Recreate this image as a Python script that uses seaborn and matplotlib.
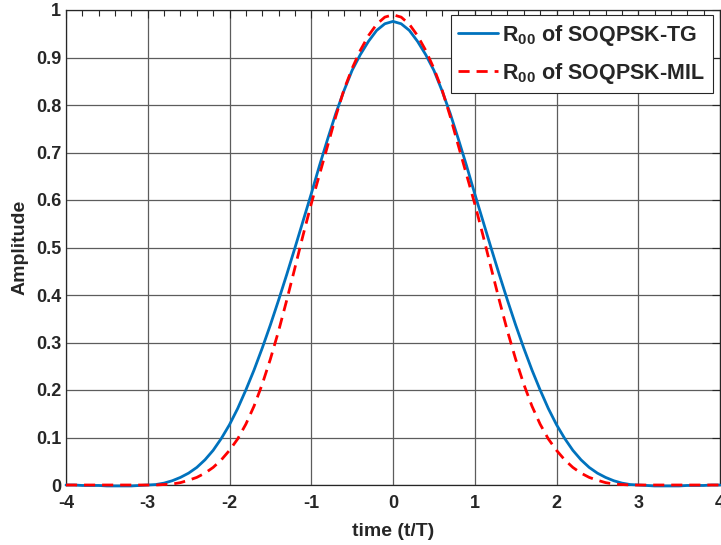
import numpy as np
import pandas as pd
import matplotlib
matplotlib.use("Agg")
import matplotlib.pyplot as plt
from matplotlib.ticker import MultipleLocator
import seaborn as sns

# time axis (t/T), step 0.1 from -4 to 4
time = [-4.0, -3.9, -3.8, -3.7, -3.6, -3.5, -3.4, -3.3, -3.2, -3.1,
        -3.0, -2.9, -2.8, -2.7, -2.6, -2.5, -2.4, -2.3, -2.2, -2.1,
        -2.0, -1.9, -1.8, -1.7, -1.6, -1.5, -1.4, -1.3, -1.2, -1.1,
        -1.0, -0.9, -0.8, -0.7, -0.6, -0.5, -0.4, -0.3, -0.2, -0.1,
        0.0, 0.1, 0.2, 0.3, 0.4, 0.5, 0.6, 0.7, 0.8, 0.9,
        1.0, 1.1, 1.2, 1.3, 1.4, 1.5, 1.6, 1.7, 1.8, 1.9,
        2.0, 2.1, 2.2, 2.3, 2.4, 2.5, 2.6, 2.7, 2.8, 2.9,
        3.0, 3.1, 3.2, 3.3, 3.4, 3.5, 3.6, 3.7, 3.8, 3.9, 4.0]

# R00 pulse of SOQPSK-TG
r00_tg = [0.000, 0.000, -0.001, -0.001, -0.001, -0.002, -0.002, -0.002, -0.002, -0.001,
          0.000, 0.001, 0.004, 0.009, 0.016, 0.025, 0.037, 0.053, 0.073, 0.098,
          0.127, 0.161, 0.200, 0.242, 0.288, 0.337, 0.389, 0.443, 0.499, 0.556,
          0.613, 0.672, 0.728, 0.782, 0.830, 0.873, 0.906, 0.934, 0.957, 0.971,
          0.976, 0.971, 0.957, 0.934, 0.906, 0.873, 0.830, 0.782, 0.728, 0.672,
          0.613, 0.556, 0.499, 0.443, 0.389, 0.337, 0.288, 0.242, 0.200, 0.161,
          0.127, 0.098, 0.073, 0.053, 0.037, 0.025, 0.016, 0.009, 0.004, 0.001,
          0.000, -0.001, -0.002, -0.002, -0.002, -0.002, -0.001, -0.001, -0.001, 0.000, 0.000]

# R00 pulse of SOQPSK-MIL
r00_mil = [0.000, 0.000, 0.000, 0.000, 0.000, 0.000, 0.000, 0.000, 0.000, 0.000,
           0.000, 0.000, 0.001, 0.002, 0.005, 0.010, 0.016, 0.025, 0.037, 0.053,
           0.073, 0.097, 0.128, 0.166, 0.212, 0.265, 0.324, 0.389, 0.457, 0.526,
           0.592, 0.653, 0.714, 0.776, 0.832, 0.877, 0.915, 0.946, 0.970, 0.985,
           0.990, 0.985, 0.970, 0.946, 0.915, 0.877, 0.832, 0.776, 0.714, 0.653,
           0.592, 0.526, 0.457, 0.389, 0.324, 0.265, 0.212, 0.166, 0.128, 0.097,
           0.073, 0.053, 0.037, 0.025, 0.016, 0.010, 0.005, 0.002, 0.001, 0.000,
           0.000, 0.000, 0.000, 0.000, 0.000, 0.000, 0.000, 0.000, 0.000, 0.000, 0.000]

labels = [r'R$_{00}$ of SOQPSK-TG', r'R$_{00}$ of SOQPSK-MIL']
xticks = [-4, -3, -2, -1, 0, 1, 2, 3, 4]
yticks = [0, 0.1, 0.2, 0.3, 0.4, 0.5, 0.6, 0.7, 0.8, 0.9, 1]
yticklabels = ['0', '0.1', '0.2', '0.3', '0.4', '0.5', '0.6', '0.7', '0.8', '0.9', '1']

sns.set_style("white")
plt.rcParams['font.family'] = ['Liberation Sans', 'DejaVu Sans']
plt.rcParams['font.weight'] = 'bold'
plt.rcParams['mathtext.fontset'] = 'custom'
plt.rcParams['mathtext.rm'] = 'Liberation Sans:bold'
plt.rcParams['mathtext.bf'] = 'Liberation Sans:bold'
plt.rcParams['mathtext.default'] = 'rm'

df = pd.DataFrame({'time': time * 2,
                   'amp': r00_tg + r00_mil,
                   'curve': [labels[0]] * len(time) + [labels[1]] * len(time)})

fig = plt.figure(figsize=(7.21, 5.45), dpi=100)
ax = fig.add_axes([66 / 721, 60 / 545, 654 / 721, 475 / 545])

sns.lineplot(data=df, x='time', y='amp', hue='curve', style='curve',
             palette=['#0072BD', '#FF0000'],
             dashes=[(None, None), (4, 2.5)],
             linewidth=2, ax=ax, clip_on=False, zorder=3)

ax.set_xlim(-4, 4)
ax.set_ylim(0, 1)
ax.set_xticks(xticks)
ax.set_xticklabels([str(v) for v in xticks])
ax.set_yticks(yticks)
ax.set_yticklabels(yticklabels)
ax.xaxis.set_minor_locator(MultipleLocator(0.2))

ax.grid(True, which='major', color='#5c5c5c', linewidth=0.9)
ax.tick_params(which='both', direction='in', top=True, right=True,
               colors='#262626', labelsize=13)
ax.tick_params(which='major', length=6, width=0.8)
ax.tick_params(which='minor', length=4, width=0.8)
ax.tick_params(axis='x', which='major', pad=7)
ax.tick_params(axis='y', which='minor', left=False, right=False)
for s in ax.spines.values():
    s.set_color('#262626')
    s.set_linewidth(0.9)

ax.set_xlabel('time (t/T)', fontsize=14, fontweight='bold', color='#262626', labelpad=8)
ax.set_ylabel('Amplitude', fontsize=14, fontweight='bold', color='#262626', labelpad=5)

leg = ax.legend(loc='upper right', bbox_to_anchor=(0.989, 0.989), borderaxespad=0,
                fontsize=15.5, frameon=True, fancybox=False, handlelength=1.85,
                handletextpad=0.2, borderpad=0.35, labelspacing=0.6, title=None)
leg.get_frame().set_edgecolor('#262626')
leg.get_frame().set_linewidth(0.8)
leg.get_frame().set_alpha(1)

fig.savefig('out.png', dpi=100)
